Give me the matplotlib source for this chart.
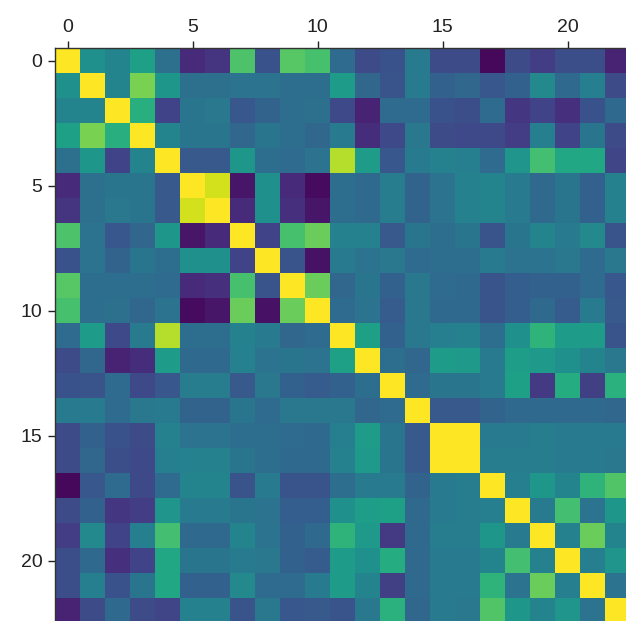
import numpy as np
import matplotlib
matplotlib.use("Agg")
import matplotlib.pyplot as plt

n = 23
tick_positions = [0, 5, 10, 15, 20]
tick_labels = ["0", "5", "10", "15", "20"]

# upper-triangle values (row i, columns i+1 .. 22), colour scale 0..1
upper_rows = [
    [0.50, 0.45, 0.57, 0.37, 0.12, 0.15, 0.72, 0.25, 0.74, 0.71, 0.35, 0.23, 0.25, 0.41, 0.23, 0.23, 0.02, 0.23, 0.18, 0.24, 0.24, 0.10],
    [0.45, 0.80, 0.53, 0.37, 0.37, 0.38, 0.38, 0.36, 0.36, 0.55, 0.33, 0.26, 0.41, 0.31, 0.33, 0.27, 0.31, 0.47, 0.34, 0.43, 0.23],
    [0.63, 0.20, 0.39, 0.40, 0.27, 0.32, 0.36, 0.37, 0.22, 0.10, 0.35, 0.35, 0.25, 0.24, 0.35, 0.16, 0.20, 0.14, 0.25, 0.34],
    [0.45, 0.39, 0.39, 0.33, 0.39, 0.36, 0.33, 0.41, 0.13, 0.22, 0.40, 0.23, 0.22, 0.22, 0.18, 0.43, 0.20, 0.39, 0.23],
    [0.28, 0.28, 0.53, 0.36, 0.35, 0.38, 0.89, 0.55, 0.27, 0.41, 0.44, 0.43, 0.35, 0.52, 0.70, 0.60, 0.60, 0.21],
    [0.93, 0.06, 0.50, 0.12, 0.03, 0.36, 0.34, 0.42, 0.32, 0.38, 0.44, 0.45, 0.41, 0.34, 0.39, 0.31, 0.44],
    [0.12, 0.50, 0.14, 0.06, 0.36, 0.34, 0.42, 0.32, 0.38, 0.44, 0.45, 0.41, 0.34, 0.39, 0.31, 0.44],
    [0.20, 0.71, 0.77, 0.44, 0.44, 0.28, 0.39, 0.36, 0.39, 0.26, 0.39, 0.45, 0.41, 0.47, 0.26],
    [0.26, 0.05, 0.41, 0.38, 0.40, 0.35, 0.36, 0.36, 0.41, 0.38, 0.38, 0.40, 0.35, 0.40],
    [0.77, 0.33, 0.39, 0.31, 0.40, 0.35, 0.34, 0.26, 0.30, 0.31, 0.31, 0.35, 0.27],
    [0.35, 0.38, 0.29, 0.40, 0.34, 0.34, 0.26, 0.30, 0.34, 0.29, 0.41, 0.28],
    [0.57, 0.31, 0.40, 0.43, 0.44, 0.36, 0.50, 0.65, 0.55, 0.55, 0.26],
    [0.36, 0.33, 0.55, 0.54, 0.41, 0.56, 0.54, 0.50, 0.45, 0.40],
    [0.35, 0.39, 0.39, 0.41, 0.57, 0.17, 0.62, 0.19, 0.64],
    [0.28, 0.28, 0.32, 0.34, 0.34, 0.34, 0.34, 0.33],
    [1.00, 0.41, 0.41, 0.42, 0.41, 0.41, 0.41],
    [0.42, 0.42, 0.42, 0.41, 0.41, 0.40],
    [0.43, 0.53, 0.45, 0.65, 0.73],
    [0.41, 0.70, 0.38, 0.53],
    [0.44, 0.77, 0.45],
    [0.43, 0.52],
    [0.38],
]

M = np.eye(n)
for i, row in enumerate(upper_rows):
    for k, v in enumerate(row):
        j = i + 1 + k
        M[i, j] = v
        M[j, i] = v

plt.rcParams['font.family'] = ['Liberation Sans', 'DejaVu Sans']
fig = plt.figure(figsize=(6.26, 6.21), dpi=100)
ax = fig.add_axes([55 / 626, 1 - 48 / 621 - 575 / 621, 575 / 626, 575 / 621])
ax.imshow(M, cmap='viridis', vmin=0, vmax=1, aspect='auto', interpolation='nearest')
ax.xaxis.tick_top()
ax.set_xticks(tick_positions)
ax.set_xticklabels(tick_labels)
ax.set_yticks(tick_positions)
ax.set_yticklabels(tick_labels)
ax.tick_params(labelsize=14, length=5, width=1, colors='#222222', pad=4)
for s in ax.spines.values():
    s.set_color('#333333')
    s.set_linewidth(1)

fig.savefig("out.png", dpi=100)
